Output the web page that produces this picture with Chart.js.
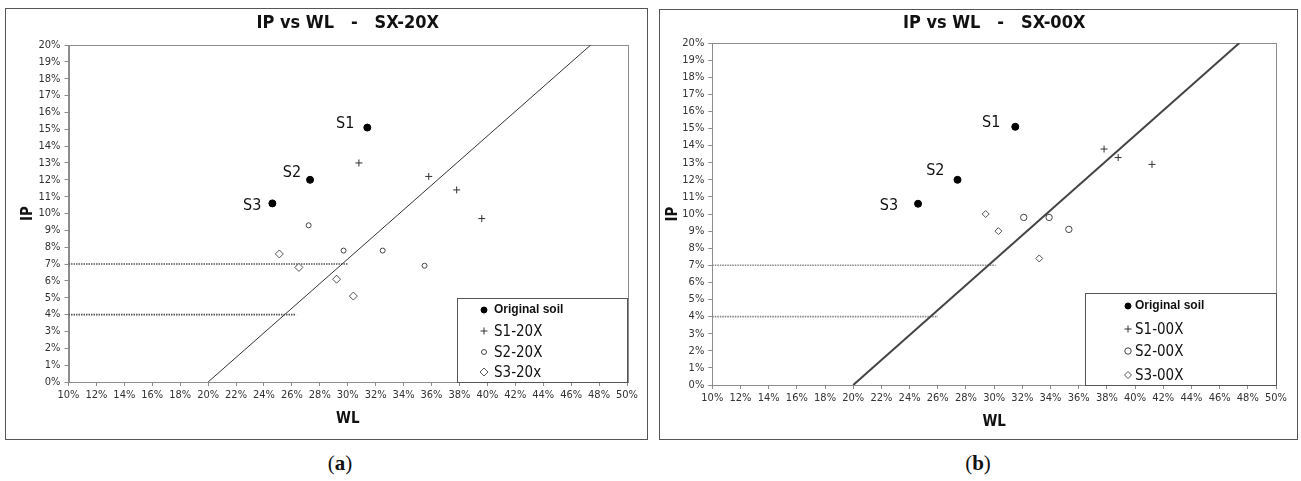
<!DOCTYPE html>
<html>
<head>
<meta charset="utf-8">
<script src="https://cdn.jsdelivr.net/npm/chart.js"></script>
<style>
  body { margin: 0; background: #fff; width: 1301px; height: 481px; position: relative; overflow: hidden; }
  .box { position: absolute; border: 1px solid #555; box-sizing: border-box; background: #fff; }
  .box canvas { position: absolute; left: 0; top: 0; }
  .cap { position: absolute; top: 451px; width: 60px; margin-left: -30px; text-align: center;
         font: 21px "Liberation Serif", "DejaVu Serif", serif; color: #111; }
</style>
</head>
<body>
<div class="box" style="left:5px;top:8px;width:643px;height:432px"><canvas id="chartA" width="641" height="430" style="width:641px;height:430px"></canvas></div>
<div class="box" style="left:659px;top:9px;width:639px;height:431px"><canvas id="chartB" width="637" height="429" style="width:637px;height:429px"></canvas></div>
<div class="cap" style="left:340px">(<b>a</b>)</div>
<div class="cap" style="left:978px">(<b>b</b>)</div>

<script>
// ---- data (WL and IP in %) ----
const sampleNames = ["S1", "S2", "S3"];

// (a) SX-20X
const seriesNamesA = ["Original soil", "S1-20X", "S2-20X", "S3-20x"];
const origWL_A = [31.4, 27.3, 24.6];
const origIP_A = [15.1, 12.0, 10.6];
const s1WL_A = [30.8, 35.8, 37.8, 39.6];
const s1IP_A = [13.0, 12.2, 11.4, 9.7];
const s2WL_A = [27.2, 29.7, 32.5, 35.5];
const s2IP_A = [9.3, 7.8, 7.8, 6.9];
const s3WL_A = [25.1, 26.5, 29.2, 30.4];
const s3IP_A = [7.6, 6.8, 6.1, 5.1];
const line7WL_A = [10, 30];
const line4WL_A = [10, 26.3];

// (b) SX-00X
const seriesNamesB = ["Original soil", "S1-00X", "S2-00X", "S3-00X"];
const origWL_B = [31.5, 27.4, 24.6];
const origIP_B = [15.1, 12.0, 10.6];
const s1WL_B = [37.8, 38.8, 41.2];
const s1IP_B = [13.8, 13.3, 12.9];
const s2WL_B = [32.1, 33.9, 35.3];
const s2IP_B = [9.8, 9.8, 9.1];
const s3WL_B = [29.4, 30.3, 33.2];
const s3IP_B = [10.0, 9.0, 7.4];
const line7WL_B = [10, 30.1];
const line4WL_B = [10, 26.0];

// A-line and horizontal limits (shared)
const aLineWL = [20, 47.4];
const aLineIP = [0, 20];
const line7IP = [7, 7];
const line4IP = [4, 4];

const FONT = '"DejaVu Sans Condensed", "DejaVu Sans", sans-serif';
const pts = (xs, ys) => xs.map((x, i) => ({ x: x, y: ys[i] }));

// frame, title, sample labels and legend box
const decoPlugin = {
  id: "deco",
  beforeDatasetsDraw(chart) {
    const ctx = chart.ctx, a = chart.chartArea;
    ctx.save();
    ctx.strokeStyle = "#8c8c8c";
    ctx.lineWidth = 1;
    ctx.strokeRect(Math.round(a.left) + 0.5, Math.round(a.top) + 0.5,
                   Math.round(a.right - a.left), Math.round(a.bottom - a.top));
    ctx.restore();
  },
  afterDraw(chart, args, o) {
    const ctx = chart.ctx, a = chart.chartArea;
    ctx.save();
    ctx.fillStyle = "#111";
    ctx.textBaseline = "middle";

    ctx.font = "bold 18px " + FONT;
    ctx.textAlign = "center";
    ctx.fillText(o.title, (a.left + a.right) / 2, o.titleY);

    ctx.font = "16px " + FONT;
    ctx.textAlign = "right";
    chart.getDatasetMeta(0).data.forEach((p, i) => {
      const off = o.labelOffsets[i];
      ctx.fillText(sampleNames[i], p.x + off[0], p.y + off[1]);
    });

    // legend box sits in the lower right corner of the plot
    const lx = a.right - o.legendW, ly = a.bottom - o.legendH;
    ctx.fillStyle = "#fff";
    ctx.fillRect(lx, ly, o.legendW, o.legendH);
    ctx.strokeStyle = "#555";
    ctx.lineWidth = 1;
    ctx.strokeRect(Math.round(lx) + 0.5, Math.round(ly) + 0.5, Math.round(o.legendW), Math.round(o.legendH));
    ctx.textAlign = "left";
    for (let i = 0; i < 4; i++) {
      const ds = chart.data.datasets[i];
      const y = ly + o.legendRows[i];
      ctx.fillStyle = ds.backgroundColor;
      ctx.strokeStyle = ds.borderColor;
      ctx.lineWidth = 1;
      Chart.helpers.drawPoint(ctx, { pointStyle: ds.pointStyle, radius: o.legendRadius[i], borderWidth: 1, rotation: 0 },
                              lx + o.markerX, y);
      ctx.fillStyle = "#111";
      ctx.font = i === 0 ? "bold 12px \"Liberation Sans\", Arial, sans-serif" : "15px " + FONT;
      ctx.fillText(ds.label, lx + o.textX, y + (i === 0 ? 0 : 1));
    }
    ctx.restore();
  }
};

function makeChart(id, d, look) {
  return new Chart(document.getElementById(id), {
    type: "scatter",
    data: {
      datasets: [
        { label: d.names[0], data: pts(d.origWL, d.origIP), pointStyle: "circle", pointRadius: 3.5,
          backgroundColor: "#000", borderColor: "#000", borderWidth: 1 },
        { label: d.names[1], data: pts(d.s1WL, d.s1IP), pointStyle: "cross", pointRadius: 3.5,
          backgroundColor: "#333", borderColor: "#333", borderWidth: 1 },
        { label: d.names[2], data: pts(d.s2WL, d.s2IP), pointStyle: "circle", pointRadius: look.s2Radius,
          backgroundColor: "#fff", borderColor: "#444", borderWidth: 1 },
        { label: d.names[3], data: pts(d.s3WL, d.s3IP), pointStyle: "rectRot", pointRadius: look.s3Radius,
          backgroundColor: "#fff", borderColor: "#555", borderWidth: 1 },
        { label: "A-line", data: pts(aLineWL, aLineIP), showLine: true, pointRadius: 0,
          borderColor: look.aColor, borderWidth: look.aWidth, fill: false },
        { label: "7%", data: pts(d.l7WL, line7IP), showLine: true, pointRadius: 0,
          borderColor: look.hColor, borderWidth: 1.6, borderDash: [1.5, 1], fill: false },
        { label: "4%", data: pts(d.l4WL, line4IP), showLine: true, pointRadius: 0,
          borderColor: look.hColor, borderWidth: 1.6, borderDash: [1.5, 1], fill: false }
      ]
    },
    options: {
      responsive: false,
      animation: false,
      events: [],
      layout: { padding: look.padding },
      plugins: {
        legend: { display: false },
        tooltip: { enabled: false },
        deco: look.deco
      },
      scales: {
        x: {
          type: "linear", min: 10, max: 50,
          ticks: { stepSize: 2, autoSkip: false, maxRotation: 0, padding: 3, color: "#333",
                   font: { size: 11, family: FONT }, callback: v => v + "%" },
          grid: { drawOnChartArea: false, drawTicks: true, tickLength: 4, color: "#8c8c8c" },
          border: { color: "#8c8c8c", width: 1 },
          title: { display: true, text: "WL", color: "#111", font: { size: 15, weight: "bold", family: FONT },
                   padding: { top: 0, bottom: look.xTitlePad } },
          afterFit: s => { s.height = look.xHeight; }
        },
        y: {
          type: "linear", min: 0, max: 20,
          ticks: { stepSize: 1, autoSkip: false, padding: 4, color: "#333",
                   font: { size: 11, family: FONT }, callback: v => v + "%" },
          grid: { drawOnChartArea: false, drawTicks: true, tickLength: 4, color: "#8c8c8c" },
          border: { color: "#8c8c8c", width: 1 },
          title: { display: true, text: "IP", color: "#111", font: { size: 15, weight: "bold", family: FONT },
                   padding: { top: look.yTitlePad, bottom: 0 } },
          afterFit: s => { s.width = look.yWidth; }
        }
      }
    },
    plugins: [decoPlugin]
  });
}

makeChart("chartA", {
  names: seriesNamesA,
  origWL: origWL_A, origIP: origIP_A, s1WL: s1WL_A, s1IP: s1IP_A,
  s2WL: s2WL_A, s2IP: s2IP_A, s3WL: s3WL_A, s3IP: s3IP_A,
  l7WL: line7WL_A, l4WL: line4WL_A
}, {
  padding: { left: 4, right: 20, top: 36, bottom: 4 },
  yWidth: 58.5, xHeight: 53, xTitlePad: 6.6, yTitlePad: 9,
  s2Radius: 2.5, s3Radius: 4, aColor: "#333", aWidth: 1, hColor: "#555",
  deco: {
    title: "IP vs WL   -   SX-20X", titleY: 14,
    labelOffsets: [[-13, -4], [-9, -7], [-11, 2]],
    legendW: 170, legendH: 84, legendRows: [12, 33, 54, 74],
    legendRadius: [3, 3.5, 2.5, 4], markerX: 27, textX: 37
  }
});

makeChart("chartB", {
  names: seriesNamesB,
  origWL: origWL_B, origIP: origIP_B, s1WL: s1WL_B, s1IP: s1IP_B,
  s2WL: s2WL_B, s2IP: s2IP_B, s3WL: s3WL_B, s3IP: s3IP_B,
  l7WL: line7WL_B, l4WL: line4WL_B
}, {
  padding: { left: 0, right: 21, top: 33, bottom: 2 },
  yWidth: 52.3, xHeight: 52, xTitlePad: 5.9, yTitlePad: 4.5,
  s2Radius: 3.2, s3Radius: 3.5, aColor: "#444", aWidth: 2, hColor: "#888",
  deco: {
    title: "IP vs WL   -   SX-00X", titleY: 13,
    labelOffsets: [[-15, -4], [-13, -9], [-20, 2]],
    legendW: 191, legendH: 92, legendRows: [13, 36, 58, 82],
    legendRadius: [3, 3.5, 3.2, 3.5], markerX: 43, textX: 50
  }
});
</script>
</body>
</html>
